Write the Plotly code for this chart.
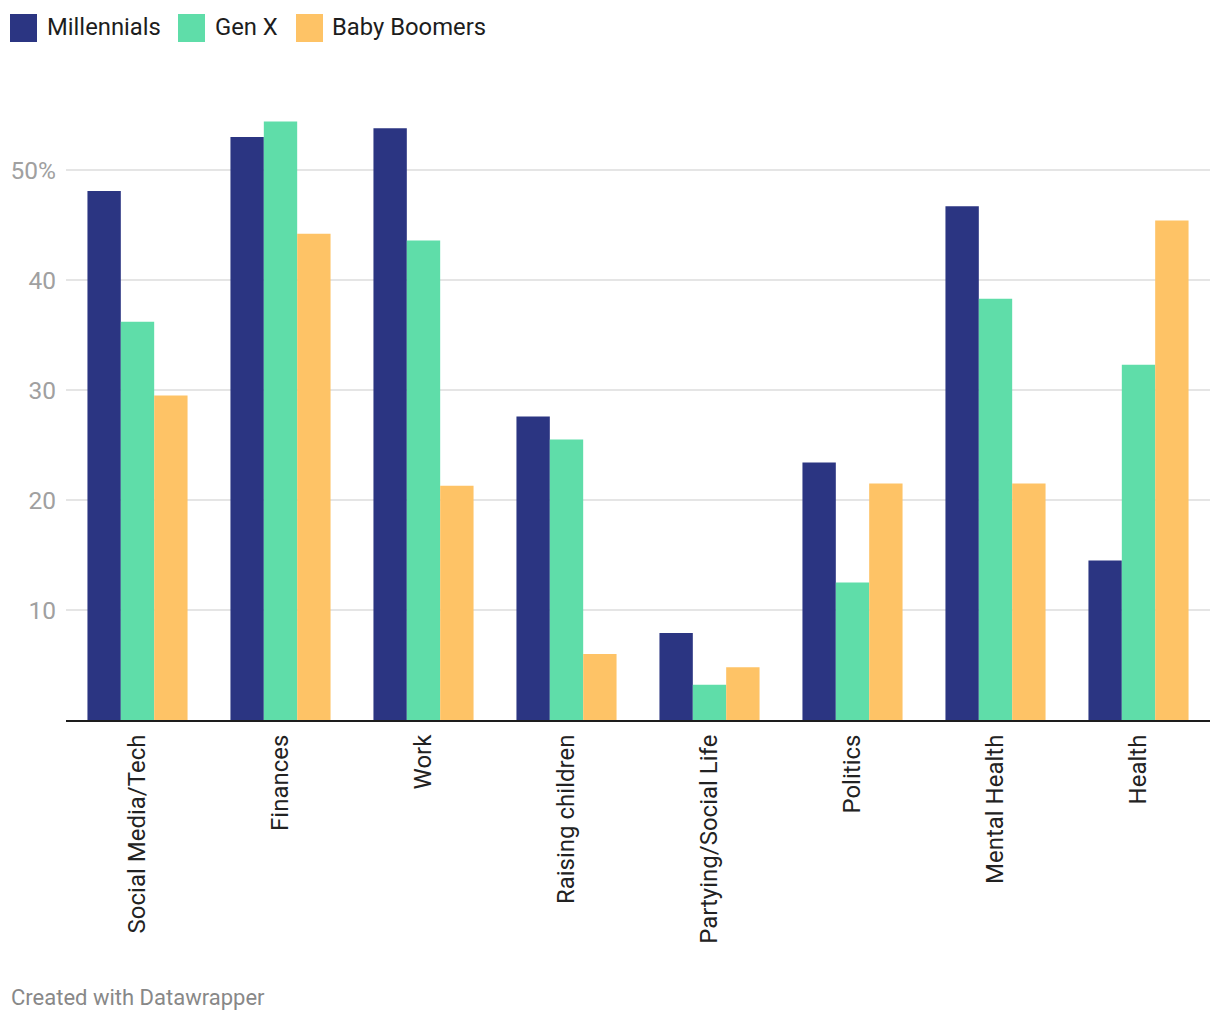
import plotly.graph_objects as go

categories = ["Social Media/Tech", "Finances", "Work", "Raising children",
              "Partying/Social Life", "Politics", "Mental Health", "Health"]
millennials = [48.1, 53.0, 53.8, 27.6, 7.9, 23.4, 46.7, 14.5]
gen_x = [36.2, 54.4, 43.6, 25.5, 3.2, 12.5, 38.3, 32.3]
boomers = [29.5, 44.2, 21.3, 6.0, 4.8, 21.5, 21.5, 45.4]
series_names = ["Millennials", "Gen X", "Baby Boomers"]
colors = ["#2b3582", "#5fdda9", "#fec366"]
tick_vals = [10, 20, 30, 40, 50]
tick_text = ["10", "20", "30", "40", "50%"]

FONT = "Roboto"
fig = go.Figure()
for name, vals, col in zip(series_names, [millennials, gen_x, boomers], colors):
    fig.add_trace(go.Bar(x=categories, y=vals, name=name, marker_color=col,
                         marker_line_width=0, showlegend=False))

W, H = 1220, 1020
L, R, T, B = 58, 18, 96, 308
PW, PH = W - L - R, H - T - B

def px(x):
    return (x - L) / PW

def py(y):
    return (H - B - y) / PH

# custom legend (figure pixel coords)
legend_pos = [(2, 37), (170, 205), (288, 322)]
shapes = []
annotations = []
for (sx, tx), name, col in zip(legend_pos, series_names, colors):
    shapes.append(dict(type="rect", xref="paper", yref="paper",
                       x0=px(sx), x1=px(sx + 27), y0=py(34), y1=py(6),
                       fillcolor=col, line_width=0, layer="above"))
    annotations.append(dict(text=name, xref="paper", yref="paper",
                            x=px(tx), y=py(19),
                            xanchor="left", yanchor="middle", showarrow=False,
                            font=dict(family=FONT, size=23.8, color="#1d1d1d")))
annotations.append(dict(text="Created with Datawrapper", xref="paper", yref="paper",
                        x=px(1), y=py(989),
                        xanchor="left", yanchor="middle", showarrow=False,
                        font=dict(family=FONT, size=22, color="#888888")))

fig.update_layout(
    width=W, height=H,
    margin=dict(l=L, r=R, t=T, b=B, autoexpand=False),
    plot_bgcolor="white", paper_bgcolor="white",
    barmode="group", bargap=0.30, bargroupgap=0,
    font=dict(family=FONT),
    shapes=shapes, annotations=annotations,
    xaxis=dict(tickangle=-90, tickfont=dict(family=FONT, size=24, color="#222222"),
               showline=True, linecolor="#1d1d1d", linewidth=2, ticks="",
               showgrid=False, ticklabelstandoff=3, fixedrange=True, automargin=False),
    yaxis=dict(range=[0, 56], tickvals=tick_vals, ticktext=tick_text,
               tickfont=dict(family=FONT, size=24.5, color="#a0a0a0"),
               showgrid=True, gridcolor="#e5e5e5", gridwidth=2,
               zeroline=False, showline=False, ticks="", ticklabelstandoff=9,
               automargin=False),
)

fig.write_html("out.html")
